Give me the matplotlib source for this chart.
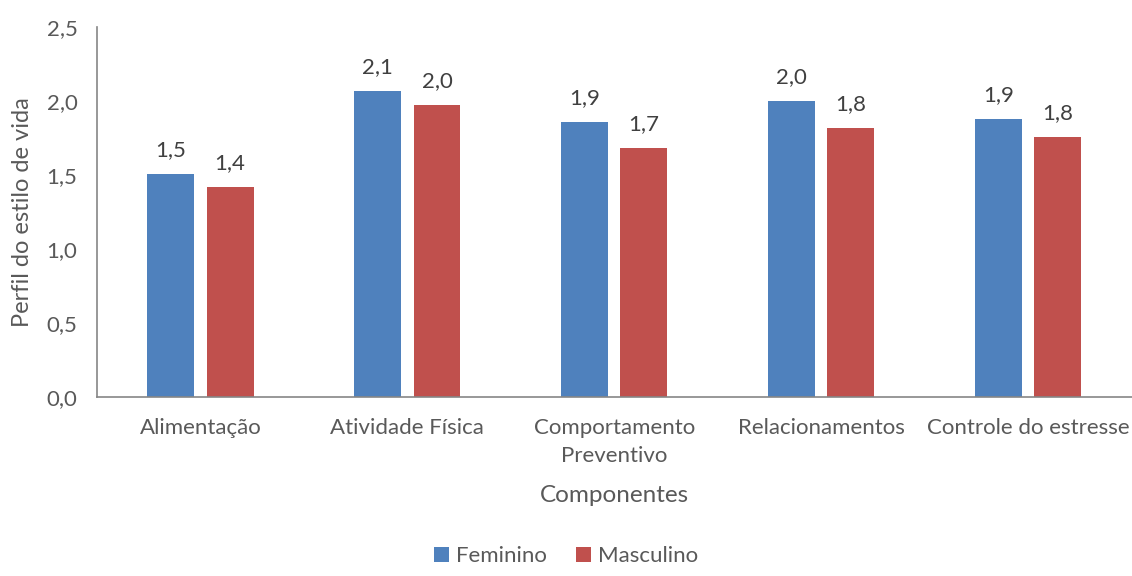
import matplotlib.pyplot as plt
import numpy as np

plt.rcParams['font.family'] = ['Lato', 'DejaVu Sans']

# Componentes do perfil do estilo de vida, por sexo
componentes = ['Alimentação', 'Atividade Física', 'Comportamento\nPreventivo',
               'Relacionamentos', 'Controle do estresse']
feminino = [1.51, 2.07, 1.86, 2.00, 1.88]
masculino = [1.42, 1.97, 1.68, 1.82, 1.76]

azul = '#4F81BD'
vermelho = '#C0504D'
cinza = '#595959'

fig = plt.figure(figsize=(11.32, 5.76), dpi=100)
ax = fig.add_axes([0.0857, 0.311, 0.914, 0.642])

x = np.arange(len(componentes))
larg = 0.227
desl = 0.143
b1 = ax.bar(x - desl, feminino, larg, color=azul, label='Feminino')
b2 = ax.bar(x + desl, masculino, larg, color=vermelho, label='Masculino')

# rótulos com uma casa decimal e vírgula
for barras in (b1, b2):
    for b in barras:
        v = b.get_height()
        ax.annotate(f'{v:.1f}'.replace('.', ','),
                    (b.get_x() + b.get_width() / 2, v),
                    xytext=(0, 10), textcoords='offset points',
                    ha='center', va='bottom', fontsize=16, color='#404040')

ax.set_xlim(-0.5, len(componentes) - 0.5)
ax.set_ylim(0, 2.5)
ticks = np.arange(0, 2.51, 0.5)
ax.set_yticks(ticks)
ax.set_yticklabels([f'{t:.1f}'.replace('.', ',') for t in ticks])
ax.set_xticks(x)
ax.set_xticklabels(componentes, linespacing=1.55)
ax.tick_params(axis='both', length=0, labelsize=16, labelcolor=cinza)
ax.tick_params(axis='x', pad=15)
ax.tick_params(axis='y', pad=14)

for lado in ('top', 'right'):
    ax.spines[lado].set_visible(False)
for lado in ('left', 'bottom'):
    ax.spines[lado].set_color('#868686')
    ax.spines[lado].set_linewidth(1.2)

ax.set_ylabel('Perfil do estilo de vida', fontsize=17, color=cinza, labelpad=10)
ax.set_xlabel('Componentes', fontsize=17.5, color=cinza, labelpad=13)

fig.legend(handles=[b1, b2], loc='lower center', bbox_to_anchor=(0.5, -0.018),
           ncol=2, frameon=False, fontsize=16, labelcolor=cinza,
           handlelength=0.7, handleheight=0.7, handletextpad=0.3, columnspacing=1.3)

fig.savefig('out.png', dpi=100)
